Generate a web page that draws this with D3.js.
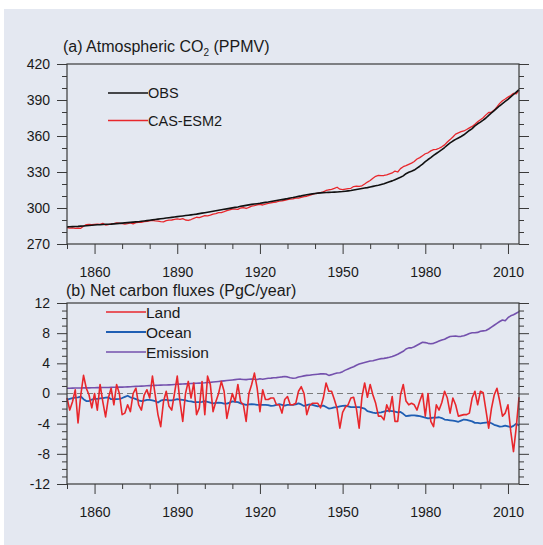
<!DOCTYPE html>
<html>
<head>
<meta charset="utf-8">
<script src="https://cdn.jsdelivr.net/npm/d3@7"></script>
<style>
  html, body { margin: 0; padding: 0; background: #ffffff; }
  svg { display: block; font-family: "Liberation Sans", Arial, Helvetica, sans-serif; }
</style>
</head>
<body>
<svg id="chart" width="543" height="545"></svg>
<script>
// Years covered by every series
const firstYear = 1850;
const lastYear = 2014;

// Atmospheric CO2 (ppmv), observed
const co2Obs = [
  284.3, 284.4, 284.5, 284.6, 284.7, 284.9, 285.0, 285.2, 285.4, 285.6,
  285.8, 286.0, 286.1, 286.3, 286.4, 286.5, 286.6, 286.8, 287.0, 287.2,
  287.4, 287.6, 287.8, 288.0, 288.2, 288.4, 288.6, 288.9, 289.2, 289.5,
  289.8, 290.1, 290.4, 290.7, 291.0, 291.3, 291.6, 291.9, 292.2, 292.5,
  292.8, 293.1, 293.4, 293.7, 294.0, 294.3, 294.6, 294.9, 295.3, 295.7,
  296.1, 296.5, 296.9, 297.3, 297.7, 298.1, 298.5, 298.9, 299.3, 299.7,
  300.1, 300.5, 300.9, 301.4, 301.8, 302.2, 302.6, 303.0, 303.3, 303.6,
  303.9, 304.3, 304.7, 305.0, 305.4, 305.8, 306.2, 306.6, 307.0, 307.4,
  307.8, 308.3, 308.7, 309.2, 309.7, 310.1, 310.6, 311.0, 311.4, 311.8,
  312.1, 312.4, 312.6, 312.8, 312.9, 313.0, 313.1, 313.2, 313.3, 313.5,
  313.7, 314.0, 314.3, 314.6, 315.0, 315.4, 315.8, 316.2, 316.6, 317.0,
  317.5, 318.0, 318.5, 319.0, 319.6, 320.2, 321.0, 321.8, 322.6, 323.6,
  324.6, 325.6, 326.8, 328.6, 329.8, 330.6, 331.6, 333.2, 334.8, 336.6,
  338.6, 340.4, 342.0, 343.8, 345.4, 347.0, 348.6, 350.4, 352.4, 354.2,
  355.8, 357.2, 358.4, 359.6, 361.0, 362.8, 364.6, 366.2, 368.4, 370.2,
  371.6, 373.2, 375.0, 377.2, 379.2, 381.2, 383.2, 385.2, 387.0, 388.8,
  390.6, 392.6, 394.6, 396.6, 398.6
];

// Atmospheric CO2 (ppmv), simulated by CAS-ESM2
const co2Model = [
  283.6, 283.2, 283.4, 283.0, 283.3, 283.1, 284.8, 286.2, 286.3, 286.1,
  286.4, 286.5, 286.3, 287.2, 285.8, 286.2, 286.8, 287.0, 287.6, 287.3,
  287.0, 286.6, 286.9, 287.6, 286.7, 287.8, 288.1, 288.0, 288.6, 288.9,
  289.3, 289.6, 289.2, 289.0, 288.6, 288.5, 289.4, 289.9, 290.0, 290.6,
  290.9, 290.5, 291.2, 290.0, 289.6, 290.4, 291.4, 292.3, 292.0, 292.8,
  293.6, 293.4, 294.0, 294.9, 295.4, 296.2, 296.1, 296.9, 297.8, 298.4,
  299.0, 299.1, 298.9, 300.0, 300.4, 299.6, 300.6, 301.6, 302.0, 302.6,
  303.0, 302.5, 303.2, 303.8, 304.3, 304.8, 305.0, 305.8, 306.0, 306.4,
  307.0, 307.4, 307.6, 308.2, 308.3, 308.9, 309.5, 309.8, 310.5, 311.4,
  311.9, 312.3, 312.9, 313.4, 314.6, 315.2, 315.5, 316.3, 317.3, 315.7,
  315.4, 315.8, 316.2, 316.4, 317.9, 318.2, 318.1, 318.5, 320.0, 321.6,
  322.9, 324.8, 326.4, 327.2, 327.0, 327.1, 327.6, 328.4, 329.2, 330.8,
  330.0, 332.8, 334.4, 335.3, 336.4, 337.4, 338.8, 340.8, 342.0, 343.6,
  345.2, 346.0, 347.6, 348.6, 348.8, 349.8, 351.0, 352.6, 355.0, 357.0,
  359.2, 361.6, 362.6, 363.6, 364.2, 365.4, 366.8, 368.0, 369.8, 371.8,
  373.6, 375.2, 377.6, 379.6, 379.8, 381.6, 384.2, 387.2, 389.4, 390.8,
  392.4, 393.8, 395.6, 395.2, 398.0
];

// Net land carbon flux (PgC/year)
const landFlux = [
  -0.6, -2.2, -1.1, 0.5, -3.9, -0.2, 2.4, 0.7, -0.2, -1.9,
  0.0, -2.2, 1.2, -1.1, -3.1, -0.6, 0.7, -1.5, 1.2, 0.0,
  -2.8, -2.6, -1.5, -2.4, 0.0, 0.7, -1.5, -2.2, -0.2, 0.5,
  -0.6, 2.3, -0.2, -2.8, -4.4, -1.1, 0.3, -1.7, -2.2, 0.0,
  2.3, -1.1, -3.7, 0.0, 1.6, -0.6, 1.4, -2.8, -1.9, 1.6,
  -2.8, 2.3, 1.2, -2.4, -1.1, 0.0, 1.6, 0.3, -3.3, -1.5,
  0.0, -1.1, 1.2, -1.1, -1.5, -3.7, 0.0, 1.2, 2.7, 0.7,
  -2.4, 0.5, -0.8, -0.8, -0.6, -0.6, -1.5, -1.5, -2.6, -0.8,
  -0.4, -1.5, -1.5, -1.3, 0.3, 0.9, 0.0, -2.8, -1.6, -1.3,
  -1.3, -1.3, -1.9, -0.6, 1.4, 0.3, 0.3, -0.8, -2.0, -4.6,
  -2.5, -1.8, -1.5, -0.6, -0.5, -2.0, -4.6, -0.5, 1.4, -0.5,
  1.2, -0.2, -1.3, -3.0, -3.0, -3.5, -1.5, -2.4, -0.4, -3.7,
  -3.7, -0.2, 1.2, -1.0, -1.5, -1.3, -1.5, -2.2, -1.0, 0.0,
  -3.0, 0.0, -3.7, -4.4, -1.5, -2.2, -1.2, 0.3, -0.6, -2.6,
  -0.6, -1.5, -3.0, -2.9, -2.8, -2.8, -2.6, -0.6, 0.3, -1.5,
  0.3, 0.1, -2.2, -4.6, -2.0, -0.2, 0.7, -1.0, -3.0, -2.6,
  -1.5, -5.0, -7.7, -4.5, -0.5
];

// Net ocean carbon flux (PgC/year)
const oceanFlux = [
  -0.8, -0.7, -0.6, -0.55, -0.5, -0.4, -0.75, -1.0, -1.0, -0.8,
  -0.7, -0.7, -0.65, -0.6, -0.55, -0.5, -0.75, -0.75, -0.75, -0.7,
  -0.6, -0.45, -0.3, -0.5, -0.6, -0.75, -0.9, -1.0, -0.95, -0.85,
  -0.85, -0.9, -1.0, -1.2, -0.95, -0.85, -0.85, -0.9, -0.9, -0.85,
  -0.75, -0.8, -0.85, -0.9, -1.0, -1.05, -1.15, -1.15, -1.15, -1.1,
  -1.0, -1.1, -1.2, -1.3, -1.25, -1.2, -1.25, -1.35, -1.35, -1.2,
  -1.05, -1.1, -1.15, -1.3, -1.4, -1.5, -1.45, -1.4, -1.45, -1.5,
  -1.5, -1.5, -1.5, -1.55, -1.65, -1.6, -1.5, -1.4, -1.5, -1.6,
  -1.5, -1.5, -1.5, -1.45, -1.3, -1.45, -1.65, -1.55, -1.45, -1.5,
  -1.6, -1.7, -1.65, -1.6, -1.8, -2.0, -1.95, -1.85, -1.8, -1.7,
  -1.65, -1.6, -1.7, -1.8, -1.8, -1.8, -1.8, -1.9, -2.0, -2.35,
  -2.45, -2.55, -2.6, -2.55, -2.5, -2.4, -2.3, -2.3, -2.35, -2.4,
  -2.5, -2.45, -2.7, -3.0, -2.95, -2.9, -2.9, -2.95, -3.0, -3.1,
  -3.2, -3.3, -3.25, -3.2, -3.2, -3.15, -3.25, -3.45, -3.5, -3.55,
  -3.6, -3.65, -3.75, -3.6, -3.45, -3.5, -3.6, -3.7, -3.9, -3.9,
  -3.95, -3.9, -3.85, -3.8, -3.95, -4.15, -4.25, -4.4, -4.35, -4.25,
  -4.35, -4.45, -4.3, -4.0, -4.25
];

// Fossil fuel emission (PgC/year)
const emission = [
  0.70, 0.70, 0.71, 0.72, 0.72, 0.73, 0.74, 0.75, 0.75, 0.76,
  0.77, 0.78, 0.78, 0.79, 0.80, 0.80, 0.81, 0.82, 0.83, 0.84,
  0.85, 0.86, 0.88, 0.90, 0.92, 0.94, 0.96, 0.98, 1.00, 1.02,
  1.04, 1.06, 1.08, 1.10, 1.11, 1.12, 1.13, 1.15, 1.17, 1.20,
  1.22, 1.24, 1.26, 1.28, 1.30, 1.32, 1.34, 1.36, 1.38, 1.40,
  1.42, 1.45, 1.48, 1.52, 1.56, 1.60, 1.64, 1.68, 1.72, 1.76,
  1.80, 1.84, 1.88, 1.90, 1.86, 1.84, 1.88, 1.92, 1.88, 1.86,
  1.95, 1.90, 1.96, 2.02, 2.04, 2.08, 2.10, 2.16, 2.20, 2.26,
  2.20, 2.08, 2.02, 2.06, 2.18, 2.26, 2.34, 2.40, 2.42, 2.48,
  2.52, 2.56, 2.60, 2.62, 2.58, 2.40, 2.50, 2.62, 2.72, 2.76,
  2.90, 3.10, 3.25, 3.40, 3.55, 3.75, 3.90, 4.00, 4.10, 4.20,
  4.30, 4.35, 4.45, 4.55, 4.62, 4.66, 4.72, 4.80, 4.90, 5.05,
  5.20, 5.40, 5.60, 5.90, 6.05, 6.05, 6.20, 6.40, 6.60, 6.80,
  6.75, 6.65, 6.60, 6.65, 6.80, 6.95, 7.10, 7.20, 7.40, 7.55,
  7.60, 7.62, 7.55, 7.58, 7.65, 7.80, 7.95, 8.05, 8.05, 8.10,
  8.25, 8.30, 8.35, 8.55, 8.80, 9.05, 9.30, 9.55, 9.75, 9.65,
  10.05, 10.30, 10.45, 10.65, 10.85
];

// Tick values
const yearTicks = [1860, 1890, 1920, 1950, 1980, 2010];
const yearMinorTicks = [1850, 1870, 1880, 1900, 1910, 1930, 1940, 1960, 1970, 1990, 2000];
const co2Ticks = [270, 300, 330, 360, 390, 420];
const fluxTicks = [-12, -8, -4, 0, 4, 8, 12];

// Titles and legend entries
const titleA = { pre: "(a) Atmospheric CO", sub: "2", post: " (PPMV)" };
const titleB = "(b) Net carbon fluxes (PgC/year)";
const legendA = [
  { name: "OBS", color: "#111111", width: 1.6 },
  { name: "CAS-ESM2", color: "#e8272c", width: 1.3 }
];
const legendB = [
  { name: "Land", color: "#e8272c", width: 1.6 },
  { name: "Ocean", color: "#1f5eb3", width: 1.8 },
  { name: "Emission", color: "#7451ad", width: 1.6 }
];

const years = d3.range(firstYear, lastYear + 1);

const svg = d3.select("#chart");
const W = 543, H = 545;
const axisColor = "#3a3a3a";
const textColor = "#1a1a1a";

svg.append("rect")
  .attr("x", 4).attr("y", 9)
  .attr("width", W - 4).attr("height", H - 9)
  .attr("fill", "#e4e8f1");

const left = 67, right = 519;
const x = d3.scaleLinear().domain([firstYear, lastYear]).range([left, right]);

// plain integer labels with an ASCII hyphen for negatives
const intLabel = d => String(d);

function drawPanel(cfg) {
  const g = svg.append("g");
  const y = d3.scaleLinear().domain(cfg.domain).range([cfg.bottom, cfg.top]);

  const styleAxis = sel => {
    sel.select(".domain").remove();
    sel.selectAll("line").attr("stroke", axisColor).attr("stroke-width", 1);
    sel.selectAll("text").attr("fill", textColor)
      .style("font-size", "14px")
      .style("font-family", "'Liberation Sans', Arial, sans-serif");
  };

  // minor and major ticks on the left and right edges
  g.append("g").attr("transform", `translate(${left},0)`)
    .call(d3.axisLeft(y).tickValues(cfg.minor).tickSize(5).tickFormat(""))
    .call(styleAxis);
  g.append("g").attr("transform", `translate(${right},0)`)
    .call(d3.axisRight(y).tickValues(cfg.minor).tickSize(5).tickFormat(""))
    .call(styleAxis);
  g.append("g").attr("transform", `translate(${left},0)`)
    .call(d3.axisLeft(y).tickValues(cfg.ticks).tickSize(10).tickPadding(7).tickFormat(intLabel))
    .call(styleAxis);
  g.append("g").attr("transform", `translate(${right},0)`)
    .call(d3.axisRight(y).tickValues(cfg.ticks).tickSize(10).tickFormat(""))
    .call(styleAxis);

  // year ticks along the bottom edge
  g.append("g").attr("transform", `translate(0,${cfg.bottom})`)
    .call(d3.axisBottom(x).tickValues(yearMinorTicks).tickSize(5).tickFormat(""))
    .call(styleAxis);
  g.append("g").attr("transform", `translate(0,${cfg.bottom})`)
    .call(d3.axisBottom(x).tickValues(yearTicks).tickSize(10).tickPadding(13).tickFormat(intLabel))
    .call(styleAxis);

  if (cfg.zeroLine) {
    g.append("line")
      .attr("x1", left).attr("x2", right)
      .attr("y1", y(0)).attr("y2", y(0))
      .attr("stroke", "#7c7c7c").attr("stroke-width", 1)
      .attr("stroke-dasharray", "6,4");
  }

  const line = d3.line().x((d, i) => x(years[i])).y(d => y(d));
  cfg.series.forEach(s => {
    g.append("path")
      .datum(s.values)
      .attr("fill", "none")
      .attr("stroke", s.color)
      .attr("stroke-width", s.width)
      .attr("stroke-linejoin", "round")
      .attr("d", line);
  });

  g.append("rect")
    .attr("x", left).attr("y", cfg.top)
    .attr("width", right - left).attr("height", cfg.bottom - cfg.top)
    .attr("fill", "none").attr("stroke", axisColor).attr("stroke-width", 1.2);

  // legend
  cfg.legend.forEach((l, i) => {
    const ly = cfg.legendY + i * cfg.legendGap;
    g.append("line")
      .attr("x1", cfg.legendX).attr("x2", cfg.legendX + 40)
      .attr("y1", ly).attr("y2", ly)
      .attr("stroke", l.color).attr("stroke-width", l.width);
    g.append("text")
      .attr("x", cfg.legendX + 40).attr("y", ly)
      .attr("dy", "0.36em")
      .attr("fill", textColor)
      .style("font-size", cfg.legendSize + "px")
      .text(l.name);
  });
  return y;
}

drawPanel({
  top: 64, bottom: 244, domain: [270, 420],
  ticks: co2Ticks, minor: d3.range(270, 421, 10).filter(v => !co2Ticks.includes(v)),
  series: [
    { values: co2Model, color: legendA[1].color, width: legendA[1].width },
    { values: co2Obs, color: legendA[0].color, width: legendA[0].width }
  ],
  legend: legendA, legendX: 108, legendY: 93, legendGap: 27.5, legendSize: 14.5
});

drawPanel({
  top: 303, bottom: 484, domain: [-12, 12],
  ticks: fluxTicks, minor: d3.range(-12, 13, 1).filter(v => !fluxTicks.includes(v)),
  zeroLine: true,
  series: [
    { values: emission, color: legendB[2].color, width: legendB[2].width },
    { values: oceanFlux, color: legendB[1].color, width: legendB[1].width },
    { values: landFlux, color: legendB[0].color, width: legendB[0].width }
  ],
  legend: legendB, legendX: 106, legendY: 312, legendGap: 20, legendSize: 15.5
});

// panel titles
const tA = svg.append("text")
  .attr("x", 63).attr("y", 52)
  .attr("fill", textColor)
  .style("font-size", "16px");
tA.append("tspan").text(titleA.pre);
tA.append("tspan").attr("dy", 4).style("font-size", "10px").text(titleA.sub);
tA.append("tspan").attr("dy", -4).text(titleA.post);

svg.append("text")
  .attr("x", 66).attr("y", 296)
  .attr("fill", textColor)
  .style("font-size", "16px")
  .text(titleB);
</script>
</body>
</html>
